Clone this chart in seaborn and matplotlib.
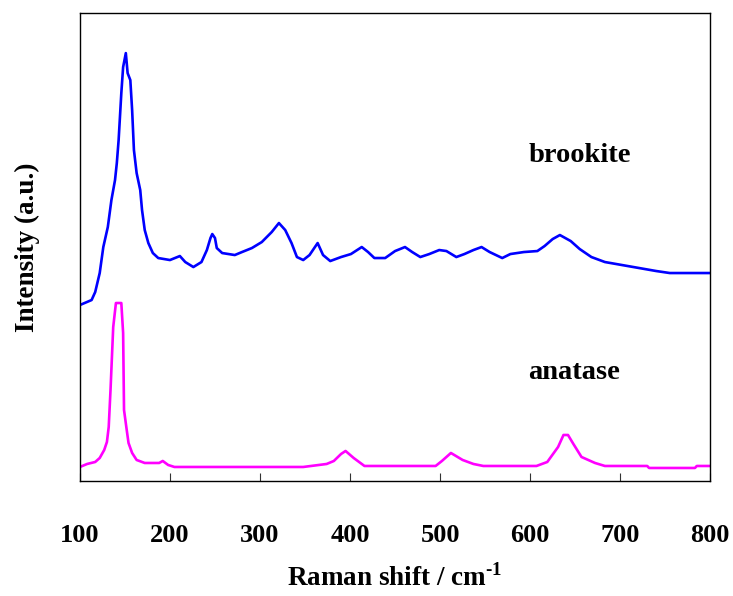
import numpy as np
import pandas as pd
import matplotlib
matplotlib.use("Agg")
import matplotlib.pyplot as plt
import seaborn as sns

sns.set_theme(style="white")
plt.rcParams['font.family'] = ['Liberation Serif', 'DejaVu Serif']
plt.rcParams['font.weight'] = 'bold'
plt.rcParams['text.color'] = 'black'
plt.rcParams['axes.labelcolor'] = 'black'
plt.rcParams['xtick.color'] = 'black'
plt.rcParams['mathtext.fontset'] = 'custom'
plt.rcParams['mathtext.rm'] = 'Liberation Serif:bold'
plt.rcParams['mathtext.bf'] = 'Liberation Serif:bold'

# brookite spectrum (Raman shift cm-1, intensity a.u.)
brookite_shift = [100, 113, 117, 122, 126, 131, 135, 139, 141, 143, 146, 148, 151, 153,
                  156, 158, 160, 163, 167, 169, 172, 176, 181, 187, 200, 211, 217, 226,
                  235, 241, 245, 247, 250, 252, 258, 272, 280, 291, 302, 313, 321, 328,
                  335, 341, 348, 355, 364, 370, 378, 390, 401, 413, 420, 427, 439, 450,
                  461, 469, 478, 488, 499, 507, 518, 527, 537, 546, 555, 569, 578, 593,
                  608, 616, 625, 633, 645, 655, 668, 683, 702, 721, 740, 755, 800]
brookite_int = [176, 181, 189, 208, 234, 254, 281, 301, 318, 341, 388, 414, 428, 408,
                401, 371, 331, 308, 291, 271, 251, 238, 228, 223, 221, 225, 219, 214,
                219, 231, 243, 247, 243, 233, 228, 226, 229, 233, 239, 249, 258, 251,
                238, 224, 221, 226, 238, 226, 220, 224, 227, 234, 229, 223, 223, 230,
                234, 229, 224, 227, 231, 230, 224, 227, 231, 234, 229, 223, 227, 229,
                230, 235, 242, 246, 240, 232, 224, 219, 216, 213, 210, 208, 208]

# anatase spectrum
anatase_shift = [100, 108, 117, 122, 127, 130, 132, 134, 137, 140, 146, 148, 149, 152,
                 154, 158, 163, 172, 188, 192, 198, 205, 348, 374, 382, 390, 395, 404,
                 416, 495, 502, 512, 525, 537, 548, 607, 619, 631, 637, 642, 648, 657,
                 672, 683, 730, 732, 783, 785, 800]
anatase_int = [14, 17, 19, 23, 31, 39, 54, 91, 154, 178, 178, 148, 71, 51,
               38, 28, 21, 18, 18, 20, 16, 14, 14, 17, 20, 27, 30, 23,
               15, 15, 20, 28, 21, 17, 15, 15, 19, 34, 46, 46, 37, 24,
               18, 15, 15, 13, 13, 15, 15]

fig = plt.figure(figsize=(7.33, 5.96), dpi=100)
ax = fig.add_axes([0.109, 0.193, 0.860, 0.785])

sns.lineplot(x=brookite_shift, y=brookite_int, ax=ax, color='#0000FF', linewidth=1.9)
sns.lineplot(x=anatase_shift, y=anatase_int, ax=ax, color='#FF00FF', linewidth=1.9)

ax.set_xlim(100, 800)
ax.set_ylim(0, 468)
ax.set_xticks([100, 200, 300, 400, 500, 600, 700, 800])
ax.set_yticks([])
ax.tick_params(axis='x', bottom=True, direction='in', length=6, width=0.8,
               color='#333333', pad=31, labelsize=19, labelcolor='black')
for lab in ax.get_xticklabels():
    lab.set_fontweight('bold')

for sp in ax.spines.values():
    sp.set_color('black')
    sp.set_linewidth(1.0)

ax.set_xlabel('Raman shift / cm$^{\\text{-1}}$', fontsize=19.5, fontweight='bold',
              labelpad=12, color='black')
ax.set_ylabel('Intensity (a.u.)', fontsize=19.5, fontweight='bold', labelpad=29,
              color='black')

ax.text(598, 326, 'brookite', fontsize=20.5, fontweight='bold', va='center', ha='left')
ax.text(598, 109, 'anatase', fontsize=20.5, fontweight='bold', va='center', ha='left')

fig.savefig('out.png', dpi=100)
